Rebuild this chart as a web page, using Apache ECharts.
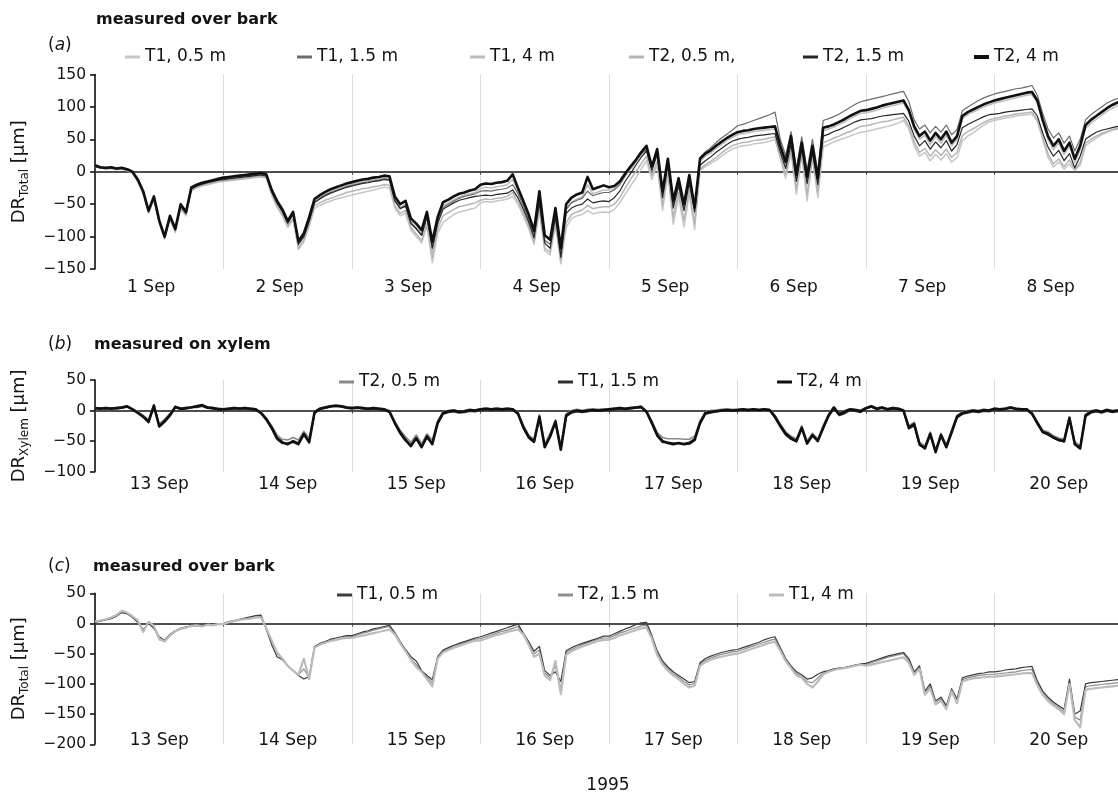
<!DOCTYPE html>
<html>
<head>
<meta charset="utf-8">
<title>Stem diameter variation, September 1995</title>
<script src="https://cdn.jsdelivr.net/npm/echarts@6/dist/echarts.min.js"></script>
<style>
  html, body { margin: 0; padding: 0; background: #ffffff; }
  #chart { width: 1118px; height: 796px; }
</style>
</head>
<body>
<div id="chart"></div>
<script>
// Hourly readings, hour 0 = midnight at the start of the first day of each panel.
const HOURS = Array.from({ length: 193 }, (_, i) => i);

const DAYS_A = ['1 Sep', '2 Sep', '3 Sep', '4 Sep', '5 Sep', '6 Sep', '7 Sep', '8 Sep'];
const DAYS_BC = ['13 Sep', '14 Sep', '15 Sep', '16 Sep', '17 Sep', '18 Sep', '19 Sep', '20 Sep'];

const TICKS_A = [-150, -100, -50, 0, 50, 100, 150];
const TICKS_B = [-100, -50, 0, 50];
const TICKS_C = [-200, -150, -100, -50, 0, 50];

// (a) measured over bark, 1-8 Sep [µm]
const aT1_05 = [
  9, 6, 4, 5, 3, 4, 2, -3, -16, -35, -64, -44, -80, -104, -74, -94, -58, -68, -30, -25, -22, -20, -18, -16,
  -15, -14, -13, -12, -11, -10, -9, -8, -10, -36, -55, -68, -86, -74, -120, -108, -84, -56, -52, -48, -45, -42, -40, -38,
  -36, -34, -32, -30, -28, -26, -24, -25, -56, -68, -64, -90, -100, -110, -84, -140, -95, -78, -72, -66, -62, -60, -58, -56,
  -48, -46, -47, -45, -44, -42, -38, -50, -68, -88, -112, -60, -122, -128, -82, -142, -86, -72, -68, -66, -60, -65, -63, -62,
  -63, -58, -48, -35, -22, -10, 4, 17, -12, 10, -60, -5, -81, -40, -85, -35, -89, 2, 8, 13, 18, 24, 30, 35,
  38, 40, 41, 43, 44, 45, 47, 50, 20, -10, 30, -35, 25, -45, 20, -40, 38, 42, 46, 49, 52, 55, 58, 61,
  62, 64, 66, 68, 70, 72, 75, 79, 66, 40, 24, 30, 17, 27, 18, 28, 15, 22, 48, 55, 60, 66, 72, 77,
  79, 81, 83, 84, 86, 87, 88, 89, 78, 50, 22, 7, 15, 4, 12, 2, 10, 40, 46, 52, 57, 61, 64, 66, 68
];
const aT1_15 = [
  9, 6, 5, 6, 4, 5, 3, -1, -14, -32, -58, -42, -78, -98, -72, -90, -54, -65, -27, -22, -19, -17, -15, -13,
  -11, -10, -9, -8, -7, -6, -5, -4, -6, -30, -48, -62, -80, -66, -110, -100, -76, -48, -41, -36, -32, -29, -26, -23,
  -21, -19, -17, -16, -14, -13, -11, -12, -44, -56, -52, -78, -88, -98, -70, -116, -78, -55, -50, -45, -41, -38, -36, -34,
  -30, -29, -30, -28, -27, -25, -20, -34, -52, -74, -98, -42, -106, -112, -66, -126, -58, -48, -44, -41, -30, -37, -34, -32,
  -32, -28, -20, -6, 6, 17, 28, 34, 10, 30, -34, 16, -50, -16, -55, -12, -58, 22, 31, 37, 45, 52, 58, 64,
  71, 73, 76, 79, 82, 85, 88, 92, 50, 25, 62, 5, 54, 2, 50, 0, 79, 82, 85, 89, 94, 99, 104, 108,
  110, 112, 114, 116, 118, 120, 122, 124, 108, 80, 66, 72, 60, 70, 61, 72, 57, 65, 94, 100, 105, 110, 114, 117,
  120, 122, 124, 126, 128, 129, 131, 133, 118, 90, 66, 52, 60, 44, 55, 32, 50, 80, 88, 94, 100, 106, 110, 113, 115
];
const aT1_4 = [
  9, 7, 5, 6, 4, 5, 3, -1, -13, -33, -63, -40, -79, -103, -71, -92, -53, -66, -27, -22, -18, -16, -14, -12,
  -10, -9, -8, -7, -6, -5, -4, -3, -5, -30, -47, -60, -78, -64, -110, -98, -73, -45, -39, -34, -30, -27, -24, -21,
  -19, -17, -15, -14, -12, -11, -9, -10, -42, -55, -50, -77, -86, -96, -68, -125, -76, -52, -48, -43, -39, -36, -34, -32,
  -26, -24, -25, -23, -22, -20, -12, -32, -52, -72, -97, -38, -105, -112, -62, -135, -56, -47, -42, -39, -20, -34, -31, -28,
  -28, -26, -19, -7, 4, 14, 26, 36, 4, 31, -36, 15, -52, -16, -58, -12, -65, 16, 24, 29, 36, 42, 48, 53,
  57, 59, 60, 62, 63, 64, 65, 66, 35, 8, 50, -15, 40, -20, 35, -22, 63, 66, 69, 73, 77, 82, 86, 90,
  91, 93, 95, 98, 100, 102, 104, 106, 91, 65, 50, 56, 42, 54, 44, 56, 40, 50, 82, 88, 92, 96, 100, 103,
  106, 108, 110, 112, 114, 116, 118, 119, 106, 76, 50, 34, 44, 26, 40, 14, 34, 67, 75, 81, 87, 93, 98, 102, 105
];
const aT2_05 = [
  8, 6, 5, 5, 4, 4, 2, -2, -15, -34, -62, -42, -78, -102, -72, -92, -56, -66, -28, -24, -21, -19, -17, -15,
  -14, -13, -12, -11, -10, -9, -8, -7, -9, -34, -52, -66, -84, -72, -118, -105, -81, -52, -48, -44, -41, -38, -35, -32,
  -30, -28, -26, -25, -23, -22, -20, -21, -52, -64, -60, -86, -96, -106, -80, -132, -88, -68, -63, -58, -54, -52, -50, -48,
  -44, -42, -43, -41, -40, -38, -32, -46, -64, -84, -108, -56, -118, -124, -78, -137, -78, -66, -62, -59, -52, -57, -55, -54,
  -54, -50, -40, -26, -12, 0, 12, 24, -6, 16, -52, 2, -70, -32, -75, -28, -80, 4, 11, 16, 22, 29, 35, 40,
  43, 45, 46, 48, 49, 50, 52, 54, 24, -4, 34, -28, 28, -35, 24, -32, 45, 48, 52, 55, 59, 62, 66, 70,
  71, 73, 75, 77, 78, 80, 82, 84, 71, 46, 30, 36, 24, 34, 25, 35, 22, 30, 56, 62, 66, 71, 76, 80,
  82, 84, 86, 87, 89, 90, 91, 92, 80, 54, 28, 12, 20, 8, 18, 4, 14, 44, 50, 55, 59, 62, 65, 67, 69
];
const aT2_15 = [
  8, 6, 6, 6, 5, 5, 3, -1, -13, -31, -62, -40, -77, -102, -70, -90, -52, -64, -26, -22, -19, -17, -15, -13,
  -12, -11, -10, -9, -8, -7, -6, -5, -7, -31, -48, -61, -79, -66, -112, -100, -76, -47, -42, -37, -33, -30, -27, -24,
  -22, -20, -18, -17, -15, -14, -12, -13, -45, -57, -53, -80, -88, -98, -70, -118, -80, -58, -53, -48, -44, -42, -40, -38,
  -37, -36, -37, -35, -34, -33, -28, -40, -58, -78, -102, -48, -110, -118, -70, -132, -64, -56, -52, -50, -42, -48, -46, -45,
  -46, -40, -30, -15, -3, 10, 22, 32, 2, 26, -40, 10, -56, -22, -60, -18, -62, 10, 17, 23, 30, 36, 42, 47,
  50, 52, 53, 55, 56, 57, 58, 59, 30, 5, 42, -15, 35, -18, 30, -20, 55, 58, 62, 65, 69, 73, 77, 80,
  81, 82, 84, 86, 87, 88, 89, 90, 78, 55, 40, 48, 35, 46, 37, 48, 32, 42, 68, 73, 77, 81, 85, 88,
  89, 90, 92, 93, 94, 95, 96, 97, 86, 60, 38, 24, 33, 17, 28, 6, 24, 50, 56, 61, 64, 66, 68, 70, 71
];
const aT2_4 = [
  10, 7, 6, 7, 5, 6, 4, 0, -12, -30, -60, -38, -75, -100, -68, -88, -50, -62, -24, -20, -17, -15, -13, -11,
  -9, -8, -7, -6, -5, -4, -3, -2, -4, -28, -45, -58, -76, -62, -107, -95, -70, -42, -36, -31, -27, -24, -21, -18,
  -16, -14, -12, -11, -9, -8, -6, -7, -38, -50, -45, -72, -80, -90, -62, -108, -70, -47, -43, -38, -34, -32, -29, -27,
  -20, -18, -19, -17, -16, -14, -4, -25, -45, -66, -91, -30, -98, -105, -56, -118, -50, -40, -35, -32, -8, -27, -24, -21,
  -24, -22, -15, -3, 8, 18, 30, 40, 8, 35, -30, 20, -45, -10, -50, -5, -55, 20, 28, 33, 40, 46, 52, 57,
  61, 63, 64, 66, 67, 68, 69, 70, 40, 15, 55, -5, 45, -8, 40, -10, 68, 70, 73, 77, 81, 86, 90, 94,
  95, 97, 99, 102, 104, 106, 108, 110, 95, 70, 55, 62, 48, 60, 50, 62, 45, 55, 86, 92, 96, 100, 104, 107,
  110, 112, 114, 116, 118, 120, 122, 123, 110, 80, 55, 40, 50, 32, 45, 20, 40, 72, 80, 86, 92, 98, 103, 107, 110
];

// (b) measured on xylem, 13-20 Sep [µm]
const bT2_05 = [
  5, 4, 5, 4, 5, 6, 7, 3, -2, -8, -15, 10, -22, -14, -5, 7, 4, 5, 6, 8, 9, 6, 5, 4,
  3, 4, 5, 4, 5, 4, 3, -2, -12, -25, -40, -47, -48, -44, -48, -34, -45, -1, 4, 6, 8, 9, 8, 6,
  5, 6, 5, 4, 5, 4, 3, 0, -18, -32, -43, -52, -40, -54, -38, -48, -17, -2, 0, 1, -1, 0, 2, 1,
  3, 4, 3, 4, 3, 4, 3, -3, -24, -40, -47, -7, -55, -37, -15, -58, -5, 0, 2, 0, 2, 3, 2, 3,
  3, 4, 5, 4, 5, 6, 7, 0, -17, -36, -44, -46, -46, -46, -47, -47, -42, -17, -2, 0, 1, 2, 3, 2,
  2, 3, 2, 3, 2, 3, 2, -8, -22, -35, -42, -46, -25, -50, -37, -46, -25, -6, 6, -4, 0, 3, 2, 1,
  5, 8, 4, 6, 3, 5, 4, 1, -25, -19, -52, -58, -35, -64, -37, -56, -32, -8, -2, 0, 1, 0, 2, 1,
  4, 3, 4, 6, 4, 3, 3, -3, -18, -32, -35, -41, -45, -47, -10, -51, -58, -6, 0, 1, -1, 2, 0, 1, 2
];
const bT1_15 = [
  3, 4, 3, 4, 3, 4, 6, 2, -3, -11, -20, 6, -24, -16, -6, 5, 2, 3, 6, 5, 7, 4, 3, 3,
  3, 2, 3, 4, 3, 2, 1, -5, -16, -30, -47, -54, -53, -52, -56, -40, -50, -5, 2, 4, 6, 7, 6, 4,
  3, 4, 3, 2, 3, 2, 1, -3, -22, -38, -50, -56, -47, -58, -45, -53, -22, -6, -3, -2, -4, -3, -1, -2,
  1, 2, 1, 2, 1, 2, 1, -6, -29, -45, -52, -14, -58, -44, -20, -62, -10, -4, -2, -3, -2, 0, -1, 0,
  1, 2, 3, 2, 3, 4, 5, -3, -22, -42, -52, -52, -53, -54, -54, -52, -46, -22, -6, -4, -2, -1, 0, -1,
  0, 1, 0, 1, 0, 1, 0, -12, -27, -40, -47, -51, -30, -52, -42, -48, -30, -10, 3, -8, -5, 0, -1, -3,
  3, 6, 2, 4, 1, 3, 2, -1, -30, -25, -57, -60, -40, -66, -42, -58, -37, -12, -6, -4, -2, -3, -1, -2,
  2, 1, 2, 4, 2, 1, 1, -6, -22, -36, -40, -45, -49, -51, -14, -54, -60, -10, -4, -2, -4, -1, -3, -2, -1
];
const bT2_4 = [
  4, 3, 4, 3, 4, 5, 7, 2, -4, -10, -18, 8, -26, -18, -8, 6, 3, 4, 5, 7, 9, 5, 4, 2,
  2, 3, 4, 3, 4, 3, 2, -4, -14, -28, -45, -52, -55, -50, -54, -38, -52, -3, 3, 5, 7, 8, 7, 5,
  4, 5, 4, 3, 4, 3, 2, -2, -20, -36, -48, -58, -45, -60, -42, -55, -20, -4, -1, 0, -2, -1, 1, 0,
  2, 3, 2, 3, 2, 3, 2, -5, -27, -43, -51, -10, -60, -42, -18, -64, -8, -2, 0, -1, 0, 1, 0, 1,
  2, 3, 4, 3, 4, 5, 6, -2, -20, -40, -50, -53, -55, -53, -55, -54, -48, -20, -4, -2, -1, 0, 1, 0,
  1, 2, 1, 2, 1, 2, 1, -10, -25, -38, -45, -50, -28, -54, -40, -50, -28, -8, 5, -6, -2, 2, 1, -1,
  4, 7, 3, 5, 2, 4, 3, 0, -28, -22, -55, -62, -38, -68, -40, -60, -35, -10, -4, -2, 0, -1, 1, 0,
  3, 2, 3, 5, 3, 2, 2, -5, -20, -35, -38, -44, -48, -50, -12, -55, -62, -8, -2, 0, -2, 1, -1, 0, 1
];

// (c) measured over bark, 13-20 Sep [µm]
const cT1_05 = [
  2, 4, 6, 8, 12, 18, 16, 10, 2, -10, 0, -8, -22, -28, -18, -12, -8, -6, -4, -4, -3, -2, -2, -1,
  0, 3, 5, 7, 9, 11, 13, 14, -10, -35, -55, -60, -70, -78, -86, -92, -88, -38, -33, -30, -26, -24, -22, -20,
  -20, -17, -14, -12, -9, -7, -5, -3, -15, -30, -43, -55, -62, -78, -86, -93, -55, -44, -40, -36, -33, -30, -27, -24,
  -22, -19, -16, -13, -10, -7, -4, -1, -16, -30, -46, -38, -78, -86, -80, -96, -45, -40, -36, -33, -30, -27, -24, -21,
  -21, -17, -13, -9, -6, -2, 1, 2, -20, -45, -62, -72, -80, -86, -92, -98, -96, -65, -58, -54, -51, -48, -46, -44,
  -43, -40, -37, -34, -31, -27, -24, -22, -40, -58, -70, -80, -85, -92, -90, -84, -80, -78, -75, -74, -73, -71, -69, -67,
  -66, -63, -60, -57, -54, -52, -50, -48, -58, -80, -70, -112, -100, -128, -122, -136, -108, -125, -90, -87, -85, -83, -82, -80,
  -80, -79, -77, -76, -75, -73, -72, -71, -95, -112, -122, -130, -136, -142, -92, -150, -145, -100, -98, -97, -96, -95, -94, -93, -92
];
const cT2_15 = [
  3, 4, 7, 9, 13, 19, 17, 11, 3, -12, 1, -6, -27, -29, -19, -12, -8, -6, -4, -3, -3, -2, -2, -1,
  -1, 2, 4, 6, 8, 9, 11, 12, -9, -31, -50, -59, -70, -78, -85, -75, -90, -39, -34, -31, -28, -26, -24, -22,
  -22, -19, -16, -14, -11, -9, -7, -5, -17, -32, -45, -58, -68, -79, -89, -98, -57, -46, -42, -38, -35, -32, -29, -26,
  -25, -22, -19, -16, -13, -11, -8, -5, -17, -32, -50, -44, -82, -90, -70, -108, -48, -43, -39, -35, -32, -29, -26, -24,
  -24, -20, -16, -13, -10, -7, -4, -3, -23, -48, -65, -75, -83, -89, -96, -102, -99, -67, -61, -57, -54, -51, -49, -47,
  -46, -43, -40, -37, -34, -31, -28, -26, -42, -60, -72, -83, -88, -96, -98, -90, -82, -79, -76, -74, -73, -71, -69, -67,
  -68, -65, -62, -59, -56, -54, -52, -50, -62, -82, -72, -115, -104, -131, -125, -139, -110, -128, -93, -90, -88, -86, -85, -84,
  -84, -83, -82, -81, -80, -78, -77, -76, -98, -115, -125, -133, -139, -146, -96, -155, -160, -105, -103, -102, -101, -100, -99, -98, -97
];
const cT1_4 = [
  3, 5, 7, 10, 14, 21, 18, 12, 5, -14, 3, -4, -25, -30, -20, -13, -9, -7, -4, -3, -5, -2, -3, -1,
  -1, 2, 4, 6, 7, 8, 10, 10, -8, -28, -48, -58, -70, -78, -85, -58, -92, -40, -35, -32, -29, -27, -25, -24,
  -24, -22, -20, -18, -16, -14, -12, -10, -18, -33, -46, -60, -72, -80, -92, -104, -58, -48, -44, -40, -37, -34, -31, -29,
  -28, -25, -22, -19, -17, -14, -12, -10, -18, -35, -55, -50, -86, -94, -62, -117, -52, -46, -42, -38, -35, -32, -29, -27,
  -27, -24, -20, -17, -14, -11, -8, -7, -25, -52, -68, -78, -86, -92, -100, -106, -103, -70, -64, -60, -57, -55, -53, -51,
  -50, -47, -44, -41, -38, -35, -32, -30, -45, -62, -74, -86, -90, -100, -106, -96, -84, -80, -77, -75, -74, -72, -70, -68,
  -70, -68, -66, -64, -62, -60, -58, -56, -65, -85, -75, -118, -108, -134, -128, -142, -112, -132, -96, -93, -91, -90, -89, -88,
  -88, -87, -86, -85, -84, -83, -82, -82, -102, -118, -128, -136, -142, -150, -100, -160, -172, -110, -108, -107, -106, -105, -104, -103, -102
];

const FONT = '"DejaVu Sans", "Liberation Sans", Arial, sans-serif';
const INK = '#141414';

// Plot frames of the three panels (pixels)
const FRAMES = [
  { top: 74.5, height: 194.5 },
  { top: 380, height: 91.7 },
  { top: 593.3, height: 151 }
];
const PLOT_LEFT = 95;
const PLOT_WIDTH = 1028;

const minus = v => String(v).replace('-', '\u2212');
const stripTag = n => n.replace(/ \[[abc]\]$/, '');

function line(name, values, panel, color, width) {
  return {
    type: 'line',
    name: name,
    xAxisIndex: panel * 2,
    yAxisIndex: panel,
    data: HOURS.map((h, i) => [h, values[i]]),
    symbol: 'none',
    showSymbol: false,
    color: color,
    lineStyle: { color: color, width: width, join: 'round' },
    silent: true,
    animation: false
  };
}

function hourAxis(panel) {
  return {
    gridIndex: panel, type: 'value', min: 0, max: 192, interval: 24,
    axisLine: { show: true, onZero: true, lineStyle: { color: INK, width: 1.6 } },
    axisTick: { show: true, length: 3, lineStyle: { color: '#444', width: 1 } },
    axisLabel: { show: false },
    splitLine: { show: true, lineStyle: { color: '#dcdcdc', width: 1 } }
  };
}

function dayAxis(panel, days, margin, offset, shift) {
  return {
    gridIndex: panel, type: 'category', data: days, position: 'bottom', boundaryGap: true,
    offset: offset,
    axisLine: { show: false, onZero: false }, axisTick: { show: false }, splitLine: { show: false },
    axisLabel: { fontFamily: FONT, fontSize: 17, color: INK, margin: margin, padding: [0, shift, 0, 0], interval: 0 }
  };
}

function valueAxis(panel, ticks, sub) {
  return {
    gridIndex: panel, type: 'value',
    min: ticks[0], max: ticks[ticks.length - 1], interval: 50,
    axisLine: { show: true, onZero: false, lineStyle: { color: INK, width: 1.6 } },
    axisTick: { show: true, length: 5, lineStyle: { color: INK, width: 1.6 } },
    axisLabel: { fontFamily: FONT, fontSize: 15.5, color: INK, margin: 9, formatter: minus },
    splitLine: { show: false },
    name: '{n|DR}{s|' + sub + '}{n| [µm]}',
    nameLocation: 'middle', nameRotate: 90, nameGap: 64, nameMoveOverlap: false,
    nameTextStyle: {
      rich: {
        n: { fontFamily: FONT, fontSize: 18, color: INK, lineHeight: 24 },
        s: { fontFamily: FONT, fontSize: 12, color: INK, lineHeight: 12, verticalAlign: 'bottom' }
      }
    }
  };
}

function legendItem(name, left, centerY, color, thick) {
  return {
    data: [name], left: left, top: centerY - 10, padding: 0,
    icon: 'rect', itemWidth: 15, itemHeight: thick ? 4 : 3, itemGap: 0,
    selectedMode: false, formatter: stripTag,
    textStyle: { fontFamily: FONT, fontSize: 17, color: INK, lineHeight: 20 }
  };
}

function caption(text, left, centerY, extra, weight, size) {
  const fs = size || 17;
  return Object.assign({
    text: text, left: left, top: centerY - 10, padding: 0,
    textStyle: {
      fontFamily: FONT, fontSize: fs, fontWeight: weight || 'normal', color: INK, lineHeight: 20,
      rich: {
        p: { fontFamily: FONT, fontSize: 17, color: INK, lineHeight: 20 },
        i: { fontFamily: FONT, fontSize: 17, color: INK, lineHeight: 20, fontStyle: 'italic' }
      }
    }
  }, extra || {});
}

// Line colours per panel
const A_COL = { t105: '#c6c6c6', t115: '#6c6c6c', t14: '#bdbdbd', t205: '#b5b5b5', t215: '#262626', t24: '#101010' };
const B_COL = { t205: '#8a8a8a', t115: '#2e2e2e', t24: '#101010' };
const C_COL = { t105: '#3c3c3c', t215: '#8e8e8e', t14: '#bcbcbc' };

const series = [
  line('T1, 0.5 m [a]', aT1_05, 0, A_COL.t105, 1.5),
  line('T2, 0.5 m, [a]', aT2_05, 0, A_COL.t205, 1.5),
  line('T1, 4 m [a]', aT1_4, 0, A_COL.t14, 1.5),
  line('T1, 1.5 m [a]', aT1_15, 0, A_COL.t115, 1.2),
  line('T2, 1.5 m [a]', aT2_15, 0, A_COL.t215, 1.2),
  line('T2, 4 m [a]', aT2_4, 0, A_COL.t24, 2.6),

  line('T2, 0.5 m [b]', bT2_05, 1, B_COL.t205, 1.6),
  line('T1, 1.5 m [b]', bT1_15, 1, B_COL.t115, 1.6),
  line('T2, 4 m [b]', bT2_4, 1, B_COL.t24, 2.6),

  line('T2, 1.5 m [c]', cT2_15, 2, C_COL.t215, 1.2),
  line('T1, 0.5 m [c]', cT1_05, 2, C_COL.t105, 1.2),
  line('T1, 4 m [c]', cT1_4, 2, C_COL.t14, 2.2)
];

const option = {
  backgroundColor: '#ffffff',
  animation: false,
  textStyle: { fontFamily: FONT },
  title: [
    caption('measured over bark', 96, 20, null, 'bold', 16),
    caption('({i|a})', 48, 46),
    caption('({i|b})', 48, 345),
    caption('measured on xylem', 94, 345, null, 'bold', 16),
    caption('({i|c})', 48, 567),
    caption('measured over bark', 93, 567, null, 'bold', 16),
    caption('1995', 608, 786, { textAlign: 'center' })
  ],
  legend: [
    legendItem('T1, 0.5 m [a]', 125, 57, A_COL.t105),
    legendItem('T1, 1.5 m [a]', 297, 57, A_COL.t115),
    legendItem('T1, 4 m [a]', 470, 57, A_COL.t14),
    legendItem('T2, 0.5 m, [a]', 629, 57, A_COL.t205),
    legendItem('T2, 1.5 m [a]', 803, 57, A_COL.t215),
    legendItem('T2, 4 m [a]', 974, 57, A_COL.t24, true),
    legendItem('T2, 0.5 m [b]', 339, 382, B_COL.t205),
    legendItem('T1, 1.5 m [b]', 558, 382, B_COL.t115),
    legendItem('T2, 4 m [b]', 777, 382, B_COL.t24),
    legendItem('T1, 0.5 m [c]', 337, 595, C_COL.t105),
    legendItem('T2, 1.5 m [c]', 558, 595, C_COL.t215),
    legendItem('T1, 4 m [c]', 769, 595, C_COL.t14)
  ],
  grid: FRAMES.map(f => ({
    left: PLOT_LEFT, top: f.top, width: PLOT_WIDTH, height: f.height,
    containLabel: false, outerBoundsMode: 'none'
  })),
  xAxis: [
    hourAxis(0), dayAxis(0, DAYS_A, 10, 0, 16),
    hourAxis(1), dayAxis(1, DAYS_BC, 4, 0, 0),
    hourAxis(2), dayAxis(2, DAYS_BC, 3, -15, 0)
  ],
  yAxis: [
    valueAxis(0, TICKS_A, 'Total'),
    valueAxis(1, TICKS_B, 'Xylem'),
    valueAxis(2, TICKS_C, 'Total')
  ],
  series: series
};

const chart = echarts.init(document.getElementById('chart'), null, { renderer: 'canvas' });
chart.setOption(option);
</script>
</body>
</html>
